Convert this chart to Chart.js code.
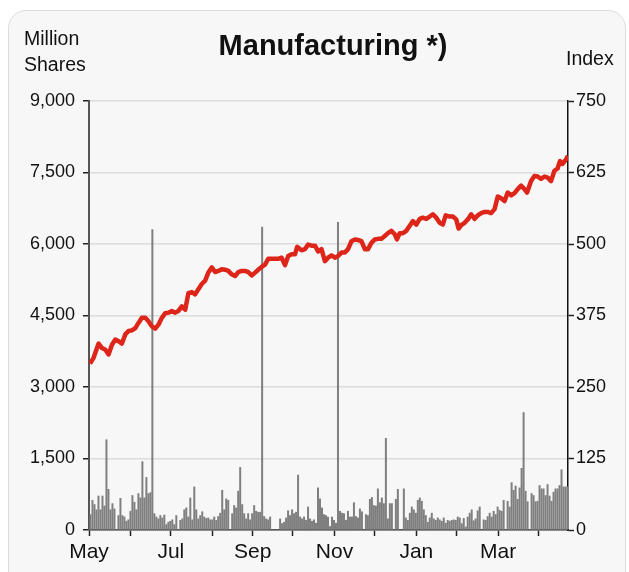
<!DOCTYPE html>
<html>
<head>
<meta charset="utf-8">
<script src="https://cdn.jsdelivr.net/npm/chart.js@4.4.1/dist/chart.umd.min.js"></script>
<style>
  html, body { margin: 0; padding: 0; overflow: hidden; background: #fff; }
  body { font-family: "Liberation Sans", Arial, sans-serif; color: #111; }
  #panel { position: absolute; left: 8px; top: 10px; width: 616px; height: 620px; border: 1px solid #dcdcdc; border-radius: 18px; background: #f7f7f7; }
  #contenedor { position: absolute; left: 0; top: 0; width: 629px; height: 572px; }
  .texto { position: absolute; font-size: 19.5px; line-height: 26px; white-space: nowrap; }
  #titulo { position: absolute; left: 133px; top: 28px; width: 400px; text-align: center; font-size: 29px; line-height: 34px; font-weight: bold; }
</style>
</head>
<body>
<div id="panel"></div>
<div id="contenedor"><canvas id="grafica"></canvas></div>
<div id="titulo">Manufacturing *)</div>
<div class="texto" style="left:24px; top:25px;">Million<br>Shares</div>
<div class="texto" style="left:566px; top:45px;">Index</div>
<script>
const MESES = ['May', 'Jun', 'Jul', 'Aug', 'Sep', 'Oct', 'Nov', 'Dec', 'Jan', 'Feb', 'Mar', 'Apr']
const DIAS_POR_MES = [21, 20, 21, 20, 20, 21, 20, 21, 20, 21, 20, 15]

// volumen diario en millones de acciones (0 = sin dato)
const VOLUMEN = [
  320, 620, 530, 420, 710, 420, 710, 500, 1890, 850, 420, 550, 440, 0, 300, 660, 300, 270, 180, 210, 390,
  720, 580, 420, 760, 670, 1430, 670, 1100, 760, 780, 6300, 340, 270, 230, 300, 250, 310, 110, 160, 180,
  210, 110, 300, 0, 200, 230, 420, 460, 270, 670, 210, 900, 420, 230, 300, 380, 270, 240, 250, 210,
  210, 270, 200, 280, 350, 830, 420, 650, 620, 0, 340, 510, 460, 810, 1310, 530, 340, 230, 340, 210, 340,
  510, 390, 370, 370, 6350, 280, 230, 210, 270, 0, 0, 0, 0, 230, 130, 160, 250, 400, 300, 420,
  340, 370, 1150, 270, 230, 270, 200, 480, 230, 180, 210, 140, 880, 650, 460, 320, 300, 270, 70, 270,
  200, 140, 6450, 390, 350, 340, 200, 390, 270, 270, 570, 280, 250, 440, 380, 0, 320, 300, 640, 680,
  510, 500, 860, 570, 670, 550, 1920, 230, 550, 550, 0, 640, 850, 0, 0, 860, 250, 200, 350, 480, 420,
  350, 620, 670, 600, 420, 300, 160, 250, 350, 230, 200, 250, 210, 180, 250, 140, 200, 180, 200, 210,
  200, 270, 250, 130, 240, 60, 270, 350, 420, 190, 230, 400, 480, 0, 210, 200, 280, 350, 270, 390, 320,
  480, 410, 390, 620, 0, 600, 480, 990, 830, 920, 640, 880, 1290, 2460, 810, 590, 0, 760,
  720, 590, 600, 930, 860, 860, 720, 950, 710, 600, 790, 860, 860, 930, 1260, 900, 900, 900
]

// indice: posicion (dia de negociacion) y valor
const INDICE_DIA = [
  0, 1.8, 4.3, 6, 7.7, 9.3, 11, 12.7, 14.3, 16, 17.7, 19.3, 21, 22.7, 24.3, 26, 27.7, 29.3, 31, 32.7,
  34.3, 36, 37.7, 39.3, 41, 42.7, 44.3, 46, 47.7, 49.3, 51, 52.7, 54.3, 56, 57.7, 59.3, 61, 62.7, 64.3, 66,
  67.7, 69.3, 71, 72.7, 74.3, 76, 77.7, 79.3, 81, 82.7, 84.3, 86, 87.7, 89.3, 91, 92.7, 94.3, 96, 97.7, 99.3,
  101, 102.7, 103.8, 106, 107.7, 109.3, 111, 112.7, 114.3, 116, 117.7, 119.3, 121, 122.7, 124.3, 126, 127.7, 129.3, 131, 132.7,
  134.3, 136, 137.7, 139.3, 141, 142.7, 144.3, 146, 147.7, 149.3, 151, 152.7, 153.8, 155.2, 156.8, 158.5, 160.2, 161.8, 163.5, 165.2,
  166.8, 168.5, 170.2, 171.8, 173.5, 175.2, 176.8, 178.2, 180.2, 181.8, 183.5, 184.7, 186, 187.7, 189.3, 191, 192.7, 194.3, 196, 197.7,
  199.3, 201, 202.7, 204.3, 206, 207.7, 209.3, 211, 212.7, 214.3, 216, 217.7, 219, 221, 222.7, 224.3, 226, 227.7, 229.3, 231,
  232.7, 234.3, 235.5, 236.8, 238.5, 239.5
]
const INDICE = [
  291, 301, 326, 318, 315, 307, 324, 333, 330, 326, 342, 348, 349, 353, 362, 371, 371, 365, 356, 352,
  359, 371, 379, 380, 383, 380, 383, 391, 385, 414, 416, 412, 421, 430, 436, 450, 459, 451, 453, 456,
  455, 453, 447, 444, 451, 453, 453, 451, 445, 450, 455, 460, 464, 474, 474, 474, 474, 476, 463, 479,
  482, 482, 495, 489, 491, 499, 497, 497, 487, 491, 470, 476, 480, 476, 479, 485, 485, 491, 505, 508,
  507, 505, 491, 491, 502, 508, 509, 509, 514, 519, 523, 517, 508, 519, 519, 523, 532, 540, 534, 544,
  546, 544, 548, 552, 546, 537, 534, 550, 548, 548, 543, 527, 533, 537, 543, 552, 544, 550, 554, 556,
  556, 554, 561, 583, 580, 575, 590, 585, 589, 596, 602, 596, 590, 610, 619, 618, 614, 618, 616, 610,
  628, 632, 645, 640, 648, 654
]

const FUENTE = '"Liberation Sans", Arial, sans-serif'
Chart.defaults.font.family = FUENTE
Chart.defaults.color = '#111'

const etiquetas = []
const inicios = []
MESES.forEach((mes, i) => {
  inicios.push(etiquetas.length)
  for (let d = 1; d <= DIAS_POR_MES[i]; d++) etiquetas.push(mes + ' ' + d)
})
const ultimo = etiquetas.length - 0.5

const puntosIndice = INDICE_DIA.map((dia, i) => ({ x: dia, y: INDICE[i] }))

const ctx = document.getElementById('grafica').getContext('2d')

new Chart(ctx, {
  data: {
    labels: etiquetas,
    datasets: [
      {
        type: 'line',
        label: 'Index',
        data: puntosIndice,
        xAxisID: 'xm',
        yAxisID: 'y2',
        borderColor: '#dd2519',
        borderWidth: 4.5,
        pointRadius: 0,
        tension: 0,
        borderJoinStyle: 'round',
        order: 0
      },
      {
        type: 'bar',
        label: 'Million Shares',
        data: VOLUMEN,
        xAxisID: 'x',
        yAxisID: 'y',
        backgroundColor: '#7f7f7f',
        borderWidth: 0,
        inflateAmount: 0.5,
        barPercentage: 1,
        categoryPercentage: 1,
        order: 1
      }
    ]
  },
  options: {
    responsive: true,
    maintainAspectRatio: false,
    animation: false,
    layout: { padding: { top: 101, left: 0, right: 0, bottom: 0 } },
    plugins: { legend: { display: false }, tooltip: { enabled: false } },
    scales: {
      x: { type: 'category', display: false, offset: true },
      xm: {
        type: 'linear',
        position: 'bottom',
        min: -0.5,
        max: ultimo,
        afterBuildTicks: eje => { eje.ticks = inicios.map(v => ({ value: v - 0.5 })) },
        afterFit: eje => { eje.height = 42 },
        ticks: {
          autoSkip: false,
          maxRotation: 0,
          padding: 4,
          font: { size: 21 },
          color: '#111',
          callback: (v, i) => i % 2 === 0 ? MESES[i] : ''
        },
        grid: { drawOnChartArea: false, tickLength: 6, tickColor: '#222', tickWidth: 1.5 },
        border: { color: '#333', width: 1.5 }
      },
      y: {
        position: 'left',
        min: 0,
        max: 9000,
        afterFit: eje => { eje.width = 89 },
        ticks: {
          stepSize: 1500,
          padding: 8,
          font: { size: 18 },
          color: '#111',
          callback: v => v.toLocaleString('en-US')
        },
        grid: { color: '#dcdcdc', lineWidth: 1.5, tickLength: 6, tickColor: '#222', tickWidth: 1.5 },
        border: { color: '#555', width: 2 }
      },
      y2: {
        position: 'right',
        min: 0,
        max: 750,
        afterFit: eje => { eje.width = 61 },
        ticks: { stepSize: 125, padding: 2, font: { size: 18 }, color: '#111' },
        grid: { drawOnChartArea: false, tickLength: 6, tickColor: '#222', tickWidth: 1.5 },
        border: { color: '#111', width: 1.5 }
      }
    }
  }
})
</script>
</body>
</html>
